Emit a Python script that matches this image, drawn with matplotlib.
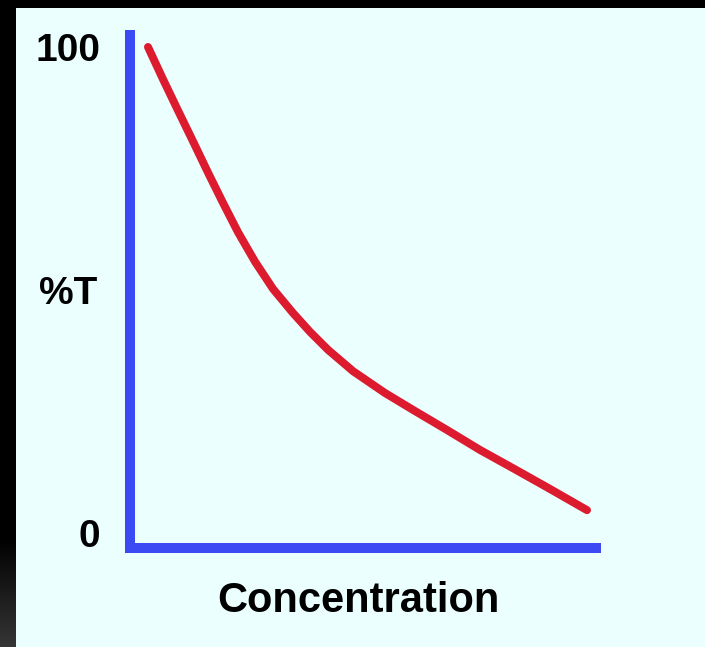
import numpy as np
import matplotlib
matplotlib.use("Agg")
import matplotlib.pyplot as plt
from matplotlib.patches import Rectangle

# Data (concentration in arbitrary units, %T)
concentration = [0, 3.4, 6.8, 10.3, 13.7, 17.1, 20.5, 24.4, 28.5, 33.0, 36.9,
                 41.0, 46.7, 54.0, 60.8, 68.1, 75.6, 83.4, 91.1, 100]
transmittance = [100, 93.4, 87.0, 80.5, 74.1, 67.9, 61.9, 55.8, 50.2, 45.3, 41.4,
                 37.7, 33.3, 28.8, 25.1, 21.2, 17.1, 13.2, 9.3, 4.7]
y_tick_values = [100, 0]
y_tick_labels = ["100", "0"]
x_label = "Concentration"
y_label = "%T"

W, H = 705, 647
fig = plt.figure(figsize=(W / 100, H / 100), dpi=100, facecolor="black")

# light panel
fig.patches.append(Rectangle((16 / W, 0), 1 - 16 / W, 1 - 8 / H,
                             transform=fig.transFigure, facecolor="#ebffff",
                             edgecolor="none", zorder=-10))
# dark gradient strip bottom-left
gax = fig.add_axes([0, 0, 16 / W, 110 / H])
grad = np.linspace(0, 1, 100).reshape(-1, 1)
gax.imshow(grad, aspect="auto", cmap=matplotlib.colors.LinearSegmentedColormap.from_list(
    "g", ["#000000", "#353535"]), origin="upper")
gax.axis("off")

blue = "#3b4af2"
red = "#dc1c2e"
lw_axis = 10 * 72 / 100

ax = fig.add_axes([130 / W, (H - 548) / H, 466 / W, 513 / H])
ax.set_facecolor("none")
ax.plot(concentration, transmittance, color=red, lw=8 * 72 / 100,
        solid_capstyle="round", solid_joinstyle="round")
ax.set_xlim(-4.1, 102.05)
ax.set_ylim(-3.09, 102.47)
for s in ["top", "right"]:
    ax.spines[s].set_visible(False)
for s in ["left", "bottom"]:
    ax.spines[s].set_color(blue)
    ax.spines[s].set_linewidth(lw_axis)
ax.set_xticks([])
ax.set_yticks(y_tick_values)
ax.set_yticklabels(y_tick_labels, fontsize=28, fontweight="bold",
                   fontfamily="Liberation Sans", color="black")
ax.tick_params(axis="y", length=0, pad=21.6)

fig.text(358 / W, 1 - 601 / H, x_label, fontsize=30, fontweight="bold",
         fontfamily="Liberation Sans", ha="center", va="center")
fig.text(68 / W, 1 - 294 / H, y_label, fontsize=28, fontweight="bold",
         fontfamily="Liberation Sans", ha="center", va="center")

fig.savefig("out.png", dpi=100, facecolor="black")
